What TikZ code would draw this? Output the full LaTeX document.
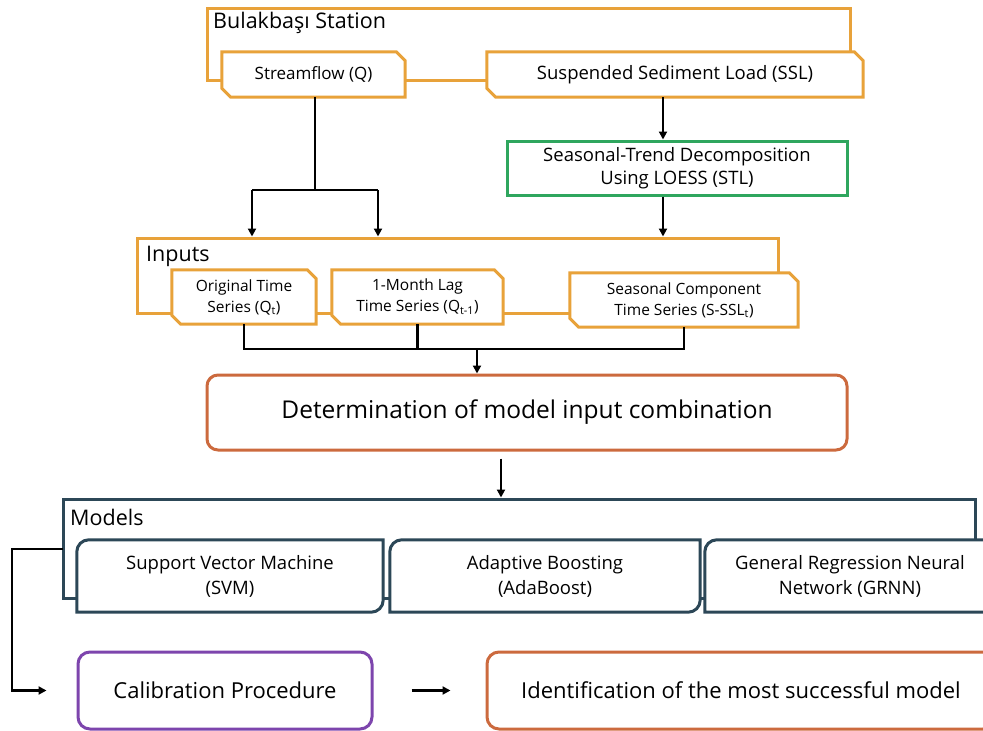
\documentclass[tikz,border=0pt]{standalone}
\usepackage{fontspec}
\setmainfont{Open Sans}
\usetikzlibrary{arrows.meta,calc}
\definecolor{gold}{HTML}{E8A23A}
\definecolor{stlgreen}{HTML}{2FA65E}
\definecolor{rust}{HTML}{CC6A3E}
\definecolor{slate}{HTML}{2C4757}
\definecolor{purp}{HTML}{7D45AD}
\newcommand\snipbox[2]{\draw[#2,line width=3pt,line join=miter] (#1.north west) -- ([xshift=-9pt]#1.north east) -- ([yshift=-9pt]#1.north east) -- (#1.south east) -- ([xshift=9pt]#1.south west) -- ([yshift=9pt]#1.south west) -- cycle;}
\newcommand\rdbox[2]{\draw[#2,line width=3pt] (#1.south west) -- ([yshift=-12pt]#1.north west) arc[start angle=180,end angle=90,radius=12pt] -- (#1.north east) -- ([yshift=12pt]#1.south east) arc[start angle=0,end angle=-90,radius=12pt] -- cycle;}
\tikzset{
  box/.style={rectangle,fill=white,inner sep=0pt,align=center,text=black},
  grp/.style={rectangle,draw,line width=3pt,fill=white,inner sep=0pt},
  lbl/.style={anchor=west,inner sep=0pt,text=black},
  conn/.style={line width=2.4pt,black},
  arr/.style={conn,-{Triangle[length=8pt,width=8pt]}},
}
\begin{document}
\begin{tikzpicture}[x=1pt,y=1pt]
\useasboundingbox (0,0) rectangle (983,-731);
% ---------- Station group ----------
\node[grp,draw=gold,minimum width=643,minimum height=72] (station) at (528.5,-44) {};
\node[lbl,font=\fontsize{21.5}{25}\selectfont] (stlabel) at (213,-23) {Bulakbaşı Station};
\node[box,minimum width=183,minimum height=45,font=\fontsize{17}{22}\selectfont] (sf) at (313.5,-74.5) {Streamflow (Q)};
\snipbox{sf}{gold}
\node[box,minimum width=376,minimum height=45,font=\fontsize{18.5}{22}\selectfont] (ssl) at (675,-74.5) {Suspended Sediment Load (SSL)};
\snipbox{ssl}{gold}
% ---------- STL ----------
\node[box,draw=stlgreen,line width=3pt,minimum width=340,minimum height=54,font=\fontsize{18.5}{23}\selectfont] (stl) at (677,-168) {Seasonal-Trend Decomposition\\Using LOESS (STL)};
% ---------- Inputs group ----------
\node[grp,draw=gold,minimum width=641,minimum height=75] (inputs) at (457.5,-275.5) {};
\node[lbl,font=\fontsize{21.5}{25}\selectfont] (inlabel) at (146,-256) {Inputs};
\node[box,minimum width=144,minimum height=54,font=\fontsize{15.5}{21}\selectfont] (ots) at (244,-297) {Original Time\\Series (Q\textsubscript{t})};
\snipbox{ots}{gold}
\node[box,minimum width=171,minimum height=54,font=\fontsize{15.5}{21}\selectfont] (lag) at (417.5,-297) {1-Month Lag\\Time Series (Q\textsubscript{t-1})};
\snipbox{lag}{gold}
\node[box,minimum width=228,minimum height=54,font=\fontsize{15.5}{21}\selectfont] (sea) at (684,-300) {Seasonal Component\\Time Series (S-SSL\textsubscript{t})};
\snipbox{sea}{gold}
% ---------- Determination ----------
\node[box,draw=rust,line width=3pt,rounded corners=11pt,minimum width=640,minimum height=75,font=\fontsize{24.5}{28}\selectfont] (det) at (527,-412.5) {Determination of model input combination};
% ---------- Models group ----------
\node[grp,draw=slate,minimum width=912,minimum height=99] (models) at (519,-548.5) {};
\node[lbl,font=\fontsize{21.5}{25}\selectfont] (mlabel) at (70,-517) {Models};
\node[box,minimum width=306,minimum height=72,font=\fontsize{18.5}{25}\selectfont] (svm) at (230,-576) {Support Vector Machine\\(SVM)};
\rdbox{svm}{slate}
\node[box,minimum width=310,minimum height=72,font=\fontsize{18.5}{25}\selectfont] (ada) at (545,-576) {Adaptive Boosting\\(AdaBoost)};
\rdbox{ada}{slate}
\node[box,minimum width=290,minimum height=72,font=\fontsize{18.5}{25}\selectfont] (grnn) at (850,-576) {General Regression Neural\\Network (GRNN)};
\rdbox{grnn}{slate}
% ---------- Bottom row ----------
\node[box,draw=purp,line width=3pt,rounded corners=12pt,minimum width=294,minimum height=77,font=\fontsize{22}{26}\selectfont] (cal) at (225,-690.5) {Calibration Procedure};
\node[box,draw=rust,line width=3pt,rounded corners=12pt,minimum width=508,minimum height=77,font=\fontsize{22}{26}\selectfont] (ide) at (741,-690.5) {Identification of the most successful model};
% ---------- Connectors ----------
\coordinate (j1) at (315,-190);
\coordinate (a1) at (252,-190);
\coordinate (a2) at (378,-190);
\coordinate (xa) at (663,0);
\coordinate (bus) at (477,-349);
\coordinate (xb) at (501,0);
\coordinate (l1) at (63,-549);
\coordinate (lc) at (12,-549);
\draw[conn] (sf.south -| j1) -- (j1);
\draw[arr] (a1) -- (a1 |- inputs.north);
\draw[arr] (a2) -- (a2 |- inputs.north);
\draw[conn] (a1) -- (a2);
\draw[arr] (ssl.south -| xa) -- (stl.north -| xa);
\draw[arr] (stl.south -| xa) -- (inputs.north -| xa);
\draw[conn] (ots.south) |- (sea.south |- bus) -- (sea.south);
\draw[conn] (lag.south) -- (lag.south |- bus);
\draw[arr] (bus) -- (det.north -| bus);
\draw[arr] ([yshift=-7pt]det.south -| xb) -- (models.north -| xb);
\draw[arr] (l1) -- (lc) |- ([xshift=-30pt]cal.west);
\draw[arr] ([xshift=38pt]cal.east) -- ([xshift=-35pt]ide.west);
\end{tikzpicture}
\end{document}
